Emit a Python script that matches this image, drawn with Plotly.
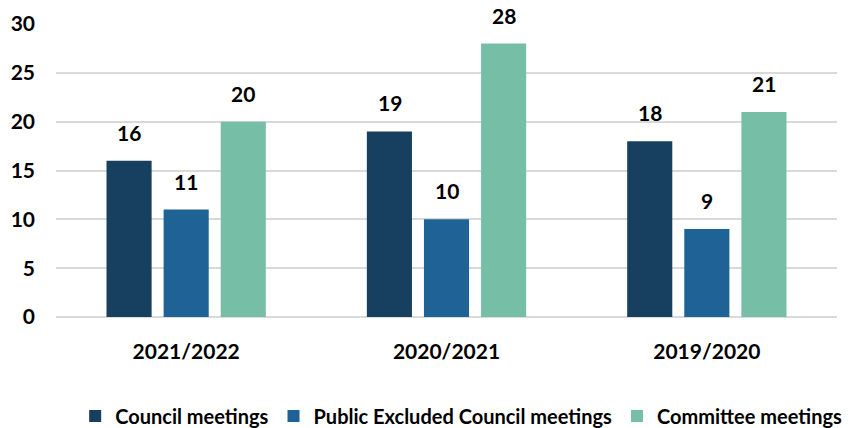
import plotly.graph_objects as go

years = ["2021/2022", "2020/2021", "2019/2020"]
council = [16, 19, 18]
public_excluded = [11, 10, 9]
committee = [20, 28, 21]

series = [
    ("Council meetings", council, "#173F5F"),
    ("Public Excluded Council meetings", public_excluded, "#1F6396"),
    ("Committee meetings", committee, "#76BEA6"),
]

font_family = "Lato, Open Sans, sans-serif"
bold = dict(family=font_family, size=21, color="#000000", weight="bold")

# horizontal pixel offsets of the three bars inside each year group
slot_shift = [-57, 0, 57]

fig = go.Figure()
for i, (name, vals, color) in enumerate(series):
    fig.add_trace(go.Bar(
        x=years, y=vals, name=name,
        marker=dict(color=color, line=dict(width=0)),
    ))
    for yr, v in zip(years, vals):
        fig.add_annotation(
            x=yr, y=v, text=str(v), showarrow=False,
            xshift=slot_shift[i], yshift=14, yanchor="bottom",
            font=bold,
        )

fig.update_layout(
    width=862, height=428,
    margin=dict(l=56, r=25, t=24, b=111, autoexpand=False),
    paper_bgcolor="white", plot_bgcolor="white",
    barmode="group", bargap=0.342, bargroupgap=0.21,
    font=bold,
    showlegend=True,
    legend=dict(
        orientation="h", xref="container", x=0.535, xanchor="center",
        yref="container", y=0.028, yanchor="middle",
        font=dict(family=font_family, size=20, color="#000000", weight="bold"),
        itemwidth=30, tracegroupgap=0,
    ),
    xaxis=dict(showgrid=False, showline=False, ticks="", ticklabelstandoff=20),
    yaxis=dict(
        range=[0, 30], dtick=5, showgrid=True, gridcolor="#D9D9D9", gridwidth=2,
        zeroline=True, zerolinecolor="#D9D9D9", zerolinewidth=2,
        showline=False, ticks="", ticklabelstandoff=20,
    ),
)

fig.write_html("out.html")
